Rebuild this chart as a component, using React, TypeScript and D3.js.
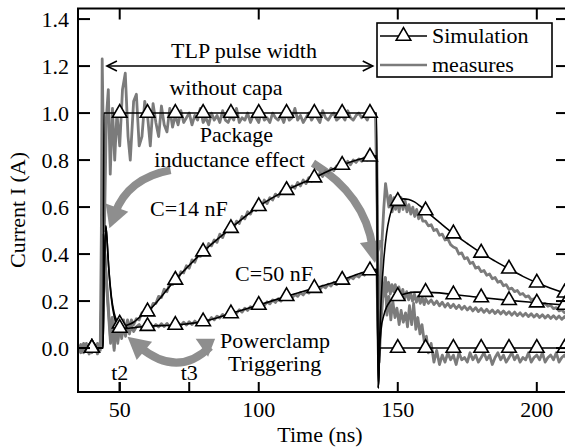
import React from 'react';
import * as d3 from 'd3';

type P = [number, number];

// ---------- axis data ----------
const xTicks = [50, 100, 150, 200];
const xTickLabels = ['50', '100', '150', '200'];
const yTicks = [0, 0.2, 0.4, 0.6, 0.8, 1.0, 1.2, 1.4];
const yTickLabels = ['0.0', '0.2', '0.4', '0.6', '0.8', '1.0', '1.2', '1.4'];
const phaseTimes = [50, 75];
const phaseLabels = ['t2', 't3'];
const legendLabels = ['Simulation', 'measures'];

// ---------- simulation series (t in ns, I in A) ----------
const simNoCap: P[] = [[35, 0], [40, 0], [44, 0], [44.3, 1], [50, 1], [60, 1], [70, 1], [80, 1], [90, 1], [100, 1], [110, 1], [120, 1], [130, 1], [140, 1], [142.4, 1], [143, -0.17], [143.6, 0], [150, 0], [160, 0], [170, 0], [180, 0], [190, 0], [200, 0], [210, 0], [212, 0]];
const simC14: P[] = [[35, 0], [40, 0], [44, 0], [44.4, 0.3], [45, 0.52], [45.5, 0.45], [46, 0.35], [47, 0.22], [48, 0.15], [49, 0.115], [50, 0.103], [51, 0.097], [52, 0.096], [53, 0.099], [55, 0.11], [57, 0.13], [60, 0.155], [70, 0.29], [80, 0.41], [90, 0.51], [100, 0.603], [110, 0.672], [120, 0.725], [130, 0.779], [140, 0.814], [142.4, 0.818], [143, -0.17], [143.5, 0.05], [144, 0.2], [145, 0.38], [146, 0.49], [147, 0.555], [148, 0.595], [149, 0.615], [150, 0.625], [152, 0.635], [154, 0.632], [156, 0.622], [158, 0.605], [160, 0.585], [165, 0.535], [170, 0.487], [175, 0.445], [180, 0.405], [185, 0.37], [190, 0.337], [195, 0.305], [200, 0.278], [205, 0.255], [210, 0.235], [212, 0.228]];
const simC50: P[] = [[35, 0], [40, 0], [44, 0], [44.4, 0.3], [45, 0.52], [45.5, 0.45], [46, 0.35], [47, 0.21], [48, 0.135], [49, 0.1], [50, 0.085], [52, 0.083], [55, 0.087], [60, 0.093], [70, 0.098], [80, 0.113], [90, 0.147], [100, 0.183], [110, 0.22], [120, 0.255], [130, 0.29], [140, 0.33], [142.4, 0.335], [143, -0.17], [143.5, 0.0], [144, 0.08], [145, 0.14], [146, 0.175], [147, 0.195], [148, 0.207], [150, 0.22], [153, 0.232], [156, 0.238], [160, 0.238], [170, 0.228], [180, 0.215], [190, 0.203], [200, 0.193], [210, 0.183], [212, 0.181]];

// ---------- measured series ----------
const measNoCapPre = [-0.01, 0.015, -0.02, 0.005, -0.025, 0.01, -0.015, 0.02, -0.01];
const measNoCapRise: P[] = [[43.4, 0.5], [43.7, 1.23], [44.1, 0.9], [44.5, 0.5], [45.2, 0.98], [45.9, 1.1], [46.6, 0.74], [47.4, 1.02], [48.2, 0.8], [49, 1.0], [50, 0.86], [51, 1.1], [52, 1.17], [53, 0.9], [53.8, 0.8], [55, 1.05], [56, 1.08], [57, 0.86], [58, 0.9], [59, 1.05], [60, 0.99], [61, 0.86], [62, 1.04], [63, 0.96], [64, 0.9], [65, 1.03], [66, 0.95], [67, 0.92], [68, 1.02], [69, 0.94]];
const measNoCapBand = [0.99, 0.95, 1.01, 0.96, 0.98, 1.0, 0.95, 0.99, 0.97, 1.02, 0.96, 0.98, 0.95, 1.0, 0.97, 0.99, 0.96, 1.01, 0.97, 0.96,
  0.99, 0.97, 1.02, 0.96, 0.98, 0.97, 1.0, 0.96, 0.99, 0.98, 0.96, 1.01, 0.97, 0.98, 0.96, 1.0, 0.98, 0.97, 0.99, 0.96,
  1.0, 0.97, 0.98, 1.02, 0.97, 0.99, 0.96, 0.98, 1.0, 0.97, 0.99, 0.98, 0.96, 1.01, 0.98, 0.97, 0.99, 1.0, 0.97, 0.98,
  0.99, 0.97, 1.01, 0.98, 0.97, 0.99, 1.0, 0.98, 0.99, 0.97, 1.0, 0.99, 0.98];
const measNoCapFall: P[] = [[142.6, 0.6], [142.9, 0.1], [143.3, -0.06], [144, 0.12], [144.7, 0.22], [145.5, 0.3], [146.1, 0.14], [146.8, 0.22], [147.5, 0.12], [148.2, 0.2], [149, 0.13], [149.7, 0.17], [150.5, 0.1], [151.2, 0.16], [152, 0.11], [152.8, 0.15], [153.5, 0.09], [154.2, 0.18], [155, 0.1], [155.7, 0.19], [156.5, 0.08], [157.2, 0.13], [158, 0.06], [158.7, 0.1], [159.5, 0.03], [160.3, 0.05], [161, -0.02], [162, 0.02], [163, -0.06], [164, -0.01], [165, -0.07]];
const measNoCapTail = [-0.03, -0.06, -0.02, -0.05, -0.03, -0.07, -0.02, -0.05, -0.04, -0.06, -0.02, -0.05, -0.03, -0.06, -0.04, -0.02, -0.05, -0.03, -0.07, -0.04,
  -0.02, -0.05, -0.03, -0.06, -0.04, -0.02, -0.05, -0.03, -0.06, -0.04, -0.05, -0.02, -0.06, -0.04, -0.03, -0.05, -0.02, -0.06, -0.04, -0.03,
  -0.05, -0.02, -0.06, -0.04, -0.03, -0.05, -0.04];

const measC14Pre = [0.01, -0.02, 0.02, -0.01, 0.015, -0.02, 0.01, -0.025, 0.0];
const measC14Rise: P[] = [[43.5, 0.2], [44, 0.48], [44.6, 0.42], [45.3, 0.28], [46, 0.16], [46.7, 0.04], [47.3, 0.13], [48, 0.0], [48.6, 0.12], [49.3, 0.03], [50, 0.13], [50.7, 0.05], [51.4, 0.12], [52.1, 0.06], [52.8, 0.12], [53.5, 0.08], [54.2, 0.12], [55, 0.1], [56, 0.125]];
const measC14Band = [0.12, 0.15, 0.14, 0.17, 0.16, 0.19, 0.19, 0.22, 0.215, 0.25, 0.24, 0.275, 0.27, 0.3, 0.295, 0.325, 0.32, 0.35, 0.34, 0.375,
  0.365, 0.395, 0.39, 0.42, 0.41, 0.445, 0.435, 0.46, 0.45, 0.485, 0.47, 0.5, 0.495, 0.52, 0.51, 0.54, 0.53, 0.56, 0.55, 0.58,
  0.57, 0.595, 0.585, 0.615, 0.6, 0.63, 0.615, 0.64, 0.63, 0.655, 0.645, 0.665, 0.66, 0.68, 0.67, 0.69, 0.68, 0.705, 0.69, 0.715,
  0.7, 0.725, 0.71, 0.735, 0.72, 0.745, 0.73, 0.755, 0.745, 0.765, 0.755, 0.775, 0.765, 0.785, 0.775, 0.795, 0.78, 0.8, 0.79, 0.805,
  0.795, 0.81, 0.8, 0.815, 0.805, 0.815];
const measC14Fall: P[] = [[142.5, 0.8], [142.8, 0.4], [143.2, 0.05], [143.7, 0.22], [144.3, 0.45], [145, 0.6], [145.6, 0.7], [146.2, 0.65], [146.8, 0.6], [147.4, 0.65], [148, 0.58], [148.6, 0.64], [149.2, 0.59], [149.8, 0.63], [150.5, 0.58], [151.2, 0.64], [151.9, 0.59], [152.6, 0.63], [153.3, 0.58], [154, 0.61], [154.7, 0.57], [155.4, 0.6], [156.1, 0.56], [156.8, 0.59], [157.5, 0.55], [158.2, 0.57], [159, 0.54]];
const measC14Tail = [0.54, 0.52, 0.525, 0.5, 0.505, 0.48, 0.485, 0.46, 0.465, 0.44, 0.43, 0.425, 0.4, 0.405, 0.38, 0.385, 0.36, 0.365, 0.34, 0.345,
  0.325, 0.33, 0.31, 0.315, 0.295, 0.3, 0.28, 0.285, 0.265, 0.27, 0.25, 0.255, 0.24, 0.245, 0.228, 0.232, 0.218, 0.222, 0.205, 0.21,
  0.196, 0.2, 0.186, 0.19, 0.178, 0.182, 0.168, 0.172, 0.158, 0.163, 0.15, 0.155, 0.145];

const measC50Pre = [-0.02, 0.01, -0.01, 0.02, -0.02, 0.0, 0.015, -0.01, 0.01];
const measC50Rise: P[] = [[43.5, 0.2], [44, 0.45], [44.6, 0.4], [45.3, 0.26], [46, 0.14], [46.7, 0.02], [47.3, 0.12], [48, -0.01], [48.6, 0.11], [49.3, 0.02], [50, 0.1], [50.7, 0.04], [51.4, 0.1], [52.1, 0.05], [52.8, 0.1], [53.5, 0.06], [54.2, 0.095], [55, 0.07], [56, 0.09]];
const measC50Band = [0.1, 0.085, 0.1, 0.09, 0.105, 0.088, 0.1, 0.09, 0.104, 0.092, 0.105, 0.09, 0.103, 0.095, 0.108, 0.096, 0.11, 0.098, 0.112, 0.1,
  0.115, 0.104, 0.118, 0.108, 0.122, 0.114, 0.13, 0.12, 0.136, 0.128, 0.143, 0.134, 0.15, 0.14, 0.156, 0.148, 0.163, 0.153, 0.17, 0.16,
  0.176, 0.168, 0.184, 0.176, 0.19, 0.182, 0.197, 0.188, 0.205, 0.194, 0.21, 0.2, 0.216, 0.21, 0.222, 0.214, 0.228, 0.22, 0.236, 0.226,
  0.242, 0.234, 0.25, 0.245, 0.258, 0.25, 0.264, 0.256, 0.272, 0.264, 0.28, 0.27, 0.286, 0.28, 0.294, 0.288, 0.302, 0.295, 0.31, 0.302,
  0.318, 0.31, 0.326, 0.318, 0.332, 0.325];
const measC50Fall: P[] = [[142.5, 0.32], [142.8, 0.12], [143.2, -0.03], [143.7, 0.12], [144.3, 0.28], [144.9, 0.22], [145.5, 0.3], [146.1, 0.24], [146.7, 0.28], [147.3, 0.23], [147.9, 0.27], [148.5, 0.24], [149.1, 0.27], [149.7, 0.23], [150.4, 0.26], [151.1, 0.22], [151.8, 0.25], [152.5, 0.21], [153.2, 0.24], [153.9, 0.205], [154.6, 0.235], [155.3, 0.2], [156, 0.23], [156.7, 0.195], [157.4, 0.22], [158.1, 0.19], [158.8, 0.215], [159.5, 0.185]];
const measC50Tail = [0.21, 0.19, 0.205, 0.185, 0.2, 0.18, 0.195, 0.175, 0.19, 0.172, 0.186, 0.168, 0.182, 0.165, 0.178, 0.162, 0.175, 0.158, 0.172, 0.155,
  0.168, 0.152, 0.165, 0.15, 0.162, 0.147, 0.16, 0.145, 0.158, 0.143, 0.155, 0.14, 0.153, 0.138, 0.15, 0.136, 0.148, 0.134, 0.146, 0.132,
  0.144, 0.13, 0.142, 0.128, 0.14, 0.126, 0.138, 0.124, 0.136, 0.122, 0.134, 0.12, 0.132];

// ---------- annotations (data units) ----------
const pulseArrow: P[] = [[45.4, 1.2], [141.0, 1.2]];
const textNotes: { label: string; at: P; anchor: string }[] = [
  { label: 'TLP pulse width', at: [94.7, 1.236], anchor: 'middle' },
  { label: 'without capa', at: [88.2, 1.077], anchor: 'middle' },
  { label: 'Package', at: [92.0, 0.876], anchor: 'middle' },
  { label: 'inductance effect', at: [89.5, 0.772], anchor: 'middle' },
  { label: 'C=14 nF', at: [60.9, 0.562], anchor: 'start' },
  { label: 'C=50 nF', at: [91.5, 0.285], anchor: 'start' },
  { label: 'Powerclamp', at: [86.1, 0.0], anchor: 'start' },
  { label: 'Triggering', at: [88.9, -0.098], anchor: 'start' },
];
// curved gray arrows: [tail, control, tip]
const curvedArrows: P[][] = [
  [[68.3, 0.757], [52.9, 0.723], [46.3, 0.51]],
  [[119.5, 0.787], [138.2, 0.651], [141.8, 0.362]],
  [[82.5, 0.005], [70.8, -0.13], [52.8, 0.048]],
];
const clampTailHead: P[] = [[80.6, 0.01], [84.3, 0.04]];

const grid = (t0: number, vals: number[]): P[] => vals.map((v, i) => [t0 + i, v] as P);

const measNoCap: P[] = [...grid(35, measNoCapPre), ...measNoCapRise, ...grid(70, measNoCapBand), ...measNoCapFall, ...grid(166, measNoCapTail)];
const measC14: P[] = [...grid(35, measC14Pre), ...measC14Rise, ...grid(57, measC14Band), ...measC14Fall, ...grid(160, measC14Tail)];
const measC50: P[] = [...grid(35, measC50Pre), ...measC50Rise, ...grid(57, measC50Band), ...measC50Fall, ...grid(160, measC50Tail)];

const W = 565, H = 448;
const L = 78, R = 567, T = 8.5, B = 392;
const FONT = '"Liberation Serif", "Times New Roman", serif';
const GRAY = '#7b7b7b';
const ARROW_GRAY = '#8e8e8e';

export default function App() {
  const x = d3.scaleLinear().domain([35, 210.5]).range([L, R - 1]);
  const y = d3.scaleLinear().domain([-0.187, 1.445]).range([B, T]);

  const measLine = d3.line<P>().x(d => x(d[0])).y(d => y(d[1])).curve(d3.curveLinear);
  const simLine = d3.line<P>().x(d => x(d[0])).y(d => y(d[1])).curve(d3.curveMonotoneX);
  const tri = d3.symbol().type(d3.symbolTriangle).size(92)();

  const sims = [simNoCap, simC14, simC50];
  const meas = [measNoCap, measC14, measC50];
  const markers: P[] = [];
  sims.forEach(s => s.forEach(d => { if (d[0] >= 40 && d[0] <= 210 && d[0] % 10 === 0) markers.push(d); }));

  const head = (tip: number[], from: number[], len: number, half: number) => {
    const dx = tip[0] - from[0], dy = tip[1] - from[1];
    const l = Math.hypot(dx, dy);
    const ux = dx / l, uy = dy / l;
    const bx = tip[0] - ux * len, by = tip[1] - uy * len;
    return { pts: `${tip[0]},${tip[1]} ${bx - uy * half},${by + ux * half} ${bx + uy * half},${by - ux * half}`, base: [tip[0] - ux * len * 0.7, tip[1] - uy * len * 0.7] };
  };

  const pa0 = [x(pulseArrow[0][0]), y(pulseArrow[0][1])];
  const pa1 = [x(pulseArrow[1][0]), y(pulseArrow[1][1])];

  return (
    <svg width={W} height={H} style={{ position: 'absolute', left: 0, top: 0, background: '#fff' }} fontFamily={FONT}>
      <defs>
        <clipPath id="plot"><rect x={L} y={T} width={R - L} height={B - T} /></clipPath>
      </defs>
      <rect x={0} y={0} width={W} height={H} fill="#fff" />

      {/* curved gray annotation arrows */}
      {curvedArrows.map((a, i) => {
        const p = a.map(d => [x(d[0]), y(d[1])]);
        const h = head(p[2], p[1], 22, 12);
        const path = `M${p[0][0]},${p[0][1]} Q${p[1][0]},${p[1][1]} ${h.base[0]},${h.base[1]}`;
        return (
          <g key={'ca' + i}>
            <path d={path} fill="none" stroke={ARROW_GRAY} strokeWidth={8} />
            <polygon points={h.pts} fill={ARROW_GRAY} />
          </g>
        );
      })}
      {(() => {
        const p0 = [x(clampTailHead[0][0]), y(clampTailHead[0][1])];
        const p1 = [x(clampTailHead[1][0]), y(clampTailHead[1][1])];
        const h = head(p1, p0, 16, 11);
        return <polygon points={h.pts} fill={ARROW_GRAY} />;
      })()}

      <g clipPath="url(#plot)">
        {meas.map((m, i) => (
          <path key={'m' + i} d={measLine(m) || ''} fill="none" stroke={GRAY} strokeWidth={2.8} strokeLinejoin="round" />
        ))}
        {sims.map((s, i) => (
          <path key={'s' + i} d={simLine(s) || ''} fill="none" stroke="#000" strokeWidth={1.6} />
        ))}
      </g>
      {markers.map((d, i) => (
        <path key={'mk' + i} d={tri || ''} transform={`translate(${x(d[0])},${y(d[1])})`} fill="#fff" stroke="#000" strokeWidth={1.6} />
      ))}

      {/* frame */}
      <rect x={L} y={T} width={R - L} height={B - T} fill="none" stroke="#000" strokeWidth={2} />
      {xTicks.map((t, i) => (
        <g key={'xt' + i}>
          <line x1={x(t)} x2={x(t)} y1={B} y2={B - 10} stroke="#000" strokeWidth={2} />
          <line x1={x(t)} x2={x(t)} y1={T} y2={T + 11} stroke="#000" strokeWidth={2} />
          <text x={x(t)} y={417} textAnchor="middle" fontSize={22}>{xTickLabels[i]}</text>
        </g>
      ))}
      {phaseTimes.map((t, i) => (
        <g key={'ph' + i}>
          <line x1={x(t)} x2={x(t)} y1={B} y2={B - 10} stroke="#000" strokeWidth={2} />
          <text x={x(t)} y={380} textAnchor="middle" fontSize={22}>{phaseLabels[i]}</text>
        </g>
      ))}
      {yTicks.map((v, i) => (
        <g key={'yt' + i}>
          <line x1={L} x2={L + 12} y1={y(v)} y2={y(v)} stroke="#000" strokeWidth={2} />
          <line x1={R} x2={R - 11} y1={y(v)} y2={y(v)} stroke="#000" strokeWidth={2} />
          <text x={69} y={y(v) + 7.5} textAnchor="end" fontSize={22}>{yTickLabels[i]}</text>
        </g>
      ))}
      <text x={320} y={442} textAnchor="middle" fontSize={22}>Time (ns)</text>
      <text transform="translate(25,210) rotate(-90)" textAnchor="middle" fontSize={22}>Current I (A)</text>

      {/* TLP pulse width arrow */}
      <line x1={pa0[0]} x2={pa1[0]} y1={pa0[1]} y2={pa1[1]} stroke="#000" strokeWidth={1.6} />
      <polyline points={`${pa0[0] + 10},${pa0[1] - 5} ${pa0[0]},${pa0[1]} ${pa0[0] + 10},${pa0[1] + 5}`} fill="none" stroke="#000" strokeWidth={1.6} />
      <polyline points={`${pa1[0] - 10},${pa1[1] - 5} ${pa1[0]},${pa1[1]} ${pa1[0] - 10},${pa1[1] + 5}`} fill="none" stroke="#000" strokeWidth={1.6} />

      {textNotes.map((n, i) => (
        <text key={'tn' + i} x={x(n.at[0])} y={y(n.at[1])} textAnchor={n.anchor as any} fontSize={22}>{n.label}</text>
      ))}

      {/* legend */}
      <rect x={377} y={23} width={175} height={54} fill="#fff" stroke="#000" strokeWidth={1.6} />
      <line x1={380} x2={427} y1={36} y2={36} stroke="#000" strokeWidth={1.6} />
      <path d={tri || ''} transform="translate(403.5,36)" fill="#fff" stroke="#000" strokeWidth={1.6} />
      <text x={432} y={43} fontSize={22}>{legendLabels[0]}</text>
      <line x1={380} x2={427} y1={65} y2={65} stroke={GRAY} strokeWidth={2.3} />
      <text x={432} y={72} fontSize={22}>{legendLabels[1]}</text>
    </svg>
  );
}
